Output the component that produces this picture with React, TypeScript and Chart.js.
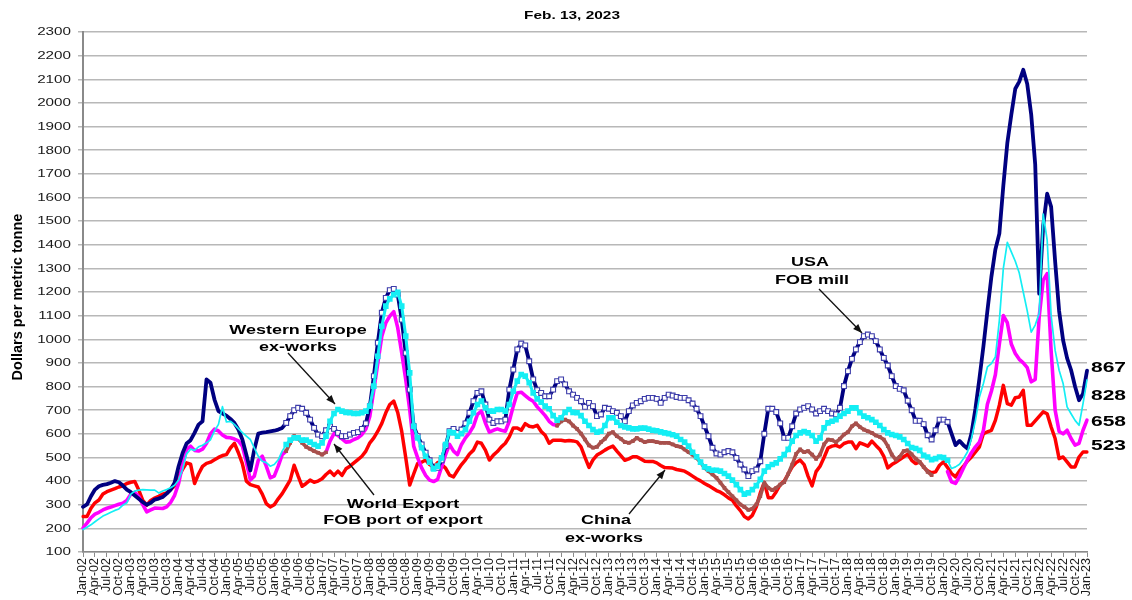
import React, { useEffect, useRef } from 'react';
import { Chart, registerables } from 'chart.js';

Chart.register(...registerables);

// ---------- categories (monthly, Jan-02 .. Jan-23) ----------
const MONTH_NAMES = ['Jan', 'Feb', 'Mar', 'Apr', 'May', 'Jun', 'Jul', 'Aug', 'Sep', 'Oct', 'Nov', 'Dec'];
const FIRST_YEAR = 2002;
const LAST_YEAR = 2023;
const CATEGORIES: string[] = [];
for (let y = FIRST_YEAR; y <= LAST_YEAR; y++) {
  for (let m = 0; m < 12; m++) {
    if (y === LAST_YEAR && m > 0) break;
    CATEGORIES.push(`${MONTH_NAMES[m]}-${String(y % 100).padStart(2, '0')}`);
  }
}

// ---------- series values, $/metric tonne ----------
const USA_FOB_MILL = [
  291, 301, 336, 364, 378, 384, 387, 393, 400, 395, 381, 364, // 2002
  353, 339, 325, 311, 300, 308, 322, 326, 333, 347, 364, 393, // 2003
  463, 519, 559, 573, 604, 639, 653, 830, 816, 745, 696, 686, // 2004
  677, 663, 646, 618, 576, 512, 445, 534, 601, 605, 607, 610, // 2005
  613, 618, 625, 646, 675, 700, 710, 706, 689, 660, 625, 597, // 2006
  590, 615, 632, 621, 604, 590, 590, 597, 604, 607, 621, 644, // 2007
  717, 844, 985, 1112, 1175, 1208, 1213, 1189, 1083, 942, 787, 632, // 2008
  590, 555, 520, 488, 456, 456, 488, 548, 611, 621, 604, 618, // 2009
  644, 689, 738, 773, 780, 724, 660, 646, 653, 653, 660, 787, // 2010
  872, 957, 982, 974, 907, 830, 785, 773, 759, 759, 787, 823, // 2011
  830, 809, 780, 766, 752, 738, 714, 731, 717, 675, 682, 710, // 2012
  706, 696, 689, 675, 653, 696, 720, 731, 738, 748, 752, 752, // 2013
  748, 731, 752, 766, 762, 756, 752, 752, 742, 728, 706, 675, // 2014
  632, 590, 541, 517, 512, 522, 527, 522, 498, 470, 449, 421, // 2015
  442, 449, 484, 600, 706, 706, 692, 644, 583, 583, 632, 686, // 2016
  703, 710, 717, 703, 686, 696, 706, 696, 686, 682, 710, 802, // 2017
  865, 917, 957, 988, 1013, 1020, 1013, 992, 957, 921, 889, 844, // 2018
  802, 790, 784, 740, 700, 655, 655, 641, 594, 576, 615, 660, // 2019
  660, 650, 601, 552, 570, 552, 538, 601, 707, 834, 970, 1120, // 2020
  1264, 1380, 1447, 1650, 1830, 1950, 2060, 2090, 2140, 2080, 1950, 1740, // 2021
  1193, 1480, 1616, 1560, 1330, 1120, 996, 920, 870, 800, 742, 770, // 2022
  867, // 2023
];

const WESTERN_EUROPE = [
  195, 205, 215, 228, 240, 252, 260, 268, 276, 282, 298, 308, // 2002
  345, 358, 362, 364, 363, 362, 362, 350, 358, 364, 372, 382, // 2003
  405, 450, 515, 535, 530, 545, 552, 562, 575, 612, 640, 715, // 2004
  650, 653, 640, 622, 605, 590, 576, 540, 505, 484, 478, 463, // 2005
  470, 490, 527, 555, 573, 583, 583, 573, 573, 565, 555, 548, // 2006
  562, 590, 653, 686, 703, 696, 691, 689, 686, 686, 689, 696, // 2007
  717, 802, 928, 1055, 1140, 1171, 1189, 1199, 1140, 1013, 858, 632, // 2008
  583, 541, 505, 480, 452, 463, 498, 555, 607, 604, 590, 601, // 2009
  618, 653, 689, 724, 738, 710, 696, 696, 703, 703, 696, 724, // 2010
  780, 823, 851, 844, 816, 773, 748, 734, 717, 706, 677, 658, // 2011
  668, 691, 703, 691, 689, 677, 653, 635, 618, 607, 611, 635, // 2012
  668, 668, 649, 635, 629, 625, 621, 621, 624, 624, 620, 615, // 2013
  613, 608, 604, 601, 596, 590, 576, 565, 548, 522, 503, 480, // 2014
  460, 452, 446, 446, 442, 432, 421, 404, 385, 364, 345, 350, // 2015
  364, 381, 407, 442, 460, 470, 477, 494, 512, 534, 569, 593, // 2016
  604, 610, 604, 593, 569, 583, 625, 646, 653, 660, 675, 686, // 2017
  696, 710, 710, 689, 675, 668, 660, 649, 635, 618, 604, 597, // 2018
  593, 587, 576, 559, 542, 538, 530, 509, 502, 491, 495, 502, // 2019
  499, 488, 453, 460, 471, 495, 523, 580, 657, 756, 813, 883, // 2020
  897, 925, 1080, 1300, 1410, 1370, 1330, 1280, 1200, 1120, 1030, 1060, // 2021
  1110, 1530, 1420, 1100, 953, 869, 813, 714, 685, 657, 636, 728, // 2022
  828, // 2023
];

const WORLD_EXPORT = [
  202, 222, 245, 260, 268, 278, 285, 290, 296, 302, 306, 318, // 2002
  345, 352, 335, 300, 270, 278, 286, 285, 284, 291, 310, 340, // 2003
  390, 470, 534, 548, 530, 527, 535, 560, 600, 620, 612, 595, // 2004
  585, 583, 578, 570, 548, 480, 405, 421, 488, 505, 463, 414, // 2005
  421, 463, 512, 527, 562, 590, 579, 562, 545, 536, 527, 520, // 2006
  512, 522, 569, 601, 593, 579, 565, 567, 576, 583, 597, 621, // 2007
  675, 787, 900, 1013, 1069, 1098, 1117, 1048, 942, 830, 703, 548, // 2008
  498, 456, 424, 404, 398, 407, 460, 512, 555, 527, 512, 555, // 2009
  583, 604, 632, 682, 696, 646, 607, 615, 621, 615, 611, 653, // 2010
  717, 773, 776, 762, 748, 738, 714, 696, 677, 653, 639, 635, // 2011
  653, 660, 653, 635, 621, 601, 576, 551, 541, 545, 565, 579, // 2012
  601, 607, 590, 579, 565, 562, 569, 583, 573, 565, 569, 569, // 2013
  565, 562, 562, 562, 555, 548, 545, 534, 522, 512, 498, 480, // 2014
  456, 442, 428, 414, 393, 371, 353, 336, 319, 301, 291, 278, // 2015
  283, 301, 336, 393, 371, 362, 371, 385, 395, 430, 470, 515, // 2016
  534, 522, 527, 512, 494, 512, 555, 576, 573, 565, 579, 597, // 2017
  607, 632, 644, 629, 618, 611, 604, 593, 587, 576, 548, 512, // 2018
  491, 503, 527, 530, 513, 495, 481, 460, 439, 425, null, null, // 2019
  null, 440, 397, 390, 420, 455, 490, 520, 545, 565, 615, 725, // 2020
  780, 850, 980, 1100, 1070, 980, 940, 915, 900, 880, 820, 830, // 2021
  1095, 1250, 1278, 950, 700, 610, 600, 615, 580, 552, 560, 615, // 2022
  658, // 2023
];

const CHINA_EX_WORKS = [
  250, 250, 285, 308, 320, 345, 355, 362, 368, 375, 380, 390, // 2002
  395, 398, 362, 318, 298, 318, 328, 336, 345, 350, 365, 380, // 2003
  418, 450, 477, 472, 390, 430, 462, 475, 480, 490, 500, 508, // 2004
  512, 540, 560, 520, 474, 400, 385, 380, 375, 345, 305, 291, // 2005
  300, 325, 347, 375, 404, 467, 421, 378, 390, 404, 395, 400, // 2006
  410, 428, 442, 424, 442, 424, 452, 463, 477, 491, 505, 527, // 2007
  562, 583, 611, 644, 689, 724, 738, 690, 610, 500, 383, 430, // 2008
  475, 480, 489, 470, 460, 478, 470, 455, 425, 418, 445, 470, // 2009
  490, 515, 531, 565, 560, 531, 489, 510, 525, 545, 560, 587, // 2010
  625, 625, 615, 643, 632, 629, 636, 610, 594, 560, 573, 573, // 2011
  573, 570, 572, 570, 566, 545, 500, 458, 490, 510, 520, 531, // 2012
  541, 548, 527, 508, 488, 494, 503, 503, 494, 484, 483, 483, // 2013
  477, 466, 457, 456, 455, 449, 446, 442, 432, 421, 410, 401, // 2014
  390, 381, 371, 360, 353, 342, 329, 319, 295, 275, 250, 240, // 2015
  255, 291, 350, 395, 330, 330, 355, 385, 400, 430, 460, 478, // 2016
  489, 470, 420, 380, 440, 463, 500, 540, 548, 551, 544, 559, // 2017
  565, 565, 537, 562, 555, 548, 569, 551, 534, 505, 456, 470, // 2018
  480, 491, 503, 514, 488, 474, 481, 460, 443, 435, 439, 467, // 2019
  481, 457, 432, 418, 443, 463, 485, 502, 523, 545, 601, 608, // 2020
  615, 657, 721, 805, 728, 721, 753, 756, 784, 636, 636, 655, // 2021
  674, 693, 685, 629, 580, 495, 502, 481, 460, 460, 502, 523, // 2022
  523, // 2023
];

// index ranges (month index) for marker / colour treatment
const USA_MARKER_SPAN = [51, 217];
const WE_MARKER_SPAN = [51, 217];
const BROWN_SPANS = [[51, 61], [119, 213]];

// end-of-series labels
const END_LABELS = ['867', '828', '658', '523'];

// axis
const Y_MIN = 100;
const Y_MAX = 2300;
const Y_STEP = 100;

// ---------- styles ----------
const NAVY = '#000080';
const NAVY_MARK = '#3c3caa';
const CYAN = '#14eef4';
const MAGENTA = '#ff00ff';
const BROWN = '#a8504c';
const RED = '#ff0000';
const GRID = '#b8b8b8';
const AXIS = '#8a8a8a';
const FONT = '"Liberation Sans", Arial, Helvetica, sans-serif';

const inSpan = (i: number, s: number[]) => i >= s[0] && i <= s[1];
const inBrown = (i: number) => BROWN_SPANS.some((s) => inSpan(i, s));

function stretchedText(ctx: CanvasRenderingContext2D, text: string, x: number, y: number, sx: number, align: CanvasTextAlign) {
  ctx.save();
  ctx.translate(x, y);
  ctx.scale(sx, 1);
  ctx.textAlign = align;
  ctx.fillText(text, 0, 0);
  ctx.restore();
}

function arrow(ctx: CanvasRenderingContext2D, x1: number, y1: number, x2: number, y2: number) {
  ctx.beginPath();
  ctx.moveTo(x1, y1);
  ctx.lineTo(x2, y2);
  ctx.stroke();
  const a = Math.atan2(y2 - y1, x2 - x1);
  const L = 9;
  const W = 3.6;
  ctx.beginPath();
  ctx.moveTo(x2, y2);
  ctx.lineTo(x2 - L * Math.cos(a) + W * Math.sin(a), y2 - L * Math.sin(a) - W * Math.cos(a));
  ctx.lineTo(x2 - L * Math.cos(a) - W * Math.sin(a), y2 - L * Math.sin(a) + W * Math.cos(a));
  ctx.closePath();
  ctx.fill();
}

const textPlugin = {
  id: 'textPlugin',
  afterDraw(chart: any) {
    const ctx: CanvasRenderingContext2D = chart.ctx;
    const xs = chart.scales.x;
    const ys = chart.scales.y;
    ctx.save();
    ctx.fillStyle = '#1a1a1a';
    ctx.textBaseline = 'middle';

    // y tick labels
    ctx.font = `10.5px ${FONT}`;
    ys.ticks.forEach((t: any) => {
      stretchedText(ctx, String(t.value), 71, ys.getPixelForValue(t.value) + 0.5, 1.45, 'right');
    });

    // x tick labels (every third month)
    ctx.font = `12.5px ${FONT}`;
    CATEGORIES.forEach((lab, i) => {
      if (i % 3 !== 0) return;
      ctx.save();
      ctx.translate(xs.getPixelForTick(i), 558);
      ctx.rotate(-Math.PI / 2);
      ctx.textAlign = 'right';
      ctx.textBaseline = 'middle';
      ctx.fillText(lab, 0, 0);
      ctx.restore();
    });

    ctx.fillStyle = '#000';
    ctx.textBaseline = 'alphabetic';

    // title
    ctx.font = `bold 11px ${FONT}`;
    stretchedText(ctx, 'Feb. 13, 2023', 572, 19, 1.4, 'center');

    // y axis title
    ctx.save();
    ctx.font = `bold 14.5px ${FONT}`;
    ctx.translate(22, 297);
    ctx.rotate(-Math.PI / 2);
    ctx.textAlign = 'center';
    ctx.fillText('Dollars per metric tonne', 0, 0);
    ctx.restore();

    // annotations
    ctx.font = `bold 13.5px ${FONT}`;
    const sxA = 1.33;
    stretchedText(ctx, 'Western Europe', 298, 334, sxA, 'center');
    stretchedText(ctx, 'ex-works', 298, 351, sxA, 'center');
    stretchedText(ctx, 'World Export', 403, 508, sxA, 'center');
    stretchedText(ctx, 'FOB port of export', 403, 524, sxA, 'center');
    stretchedText(ctx, 'China', 606, 524, sxA, 'center');
    stretchedText(ctx, 'ex-works', 604, 542, sxA, 'center');
    stretchedText(ctx, 'USA', 810, 266, sxA, 'center');
    stretchedText(ctx, 'FOB mill', 812, 284, sxA, 'center');

    ctx.strokeStyle = '#111';
    ctx.fillStyle = '#111';
    ctx.lineWidth = 1.3;
    arrow(ctx, 288, 353, 335, 404);
    arrow(ctx, 374, 495, 334, 444);
    arrow(ctx, 629, 514, 665, 470);
    arrow(ctx, 819, 289, 862, 333);

    // end values
    ctx.fillStyle = '#000';
    ctx.font = `bold 15px ${FONT}`;
    const endY = [372, 400, 426, 450];
    END_LABELS.forEach((t, k) => stretchedText(ctx, t, 1091, endY[k], 1.4, 'left'));

    ctx.restore();
  },
};

export default function App() {
  const ref = useRef<HTMLCanvasElement>(null);

  useEffect(() => {
    if (!ref.current) return;
    const chart = new Chart(ref.current, {
      type: 'line',
      data: {
        labels: CATEGORIES,
        datasets: [
          {
            label: 'Western Europe ex-works',
            data: WESTERN_EUROPE,
            borderColor: CYAN,
            backgroundColor: CYAN,
            borderWidth: 1.7,
            order: 1,
            segment: {
              borderWidth: (c: any) =>
                inSpan(c.p0DataIndex, WE_MARKER_SPAN) && inSpan(c.p1DataIndex, WE_MARKER_SPAN) ? 3 : 1.7,
            },
            pointStyle: 'rect',
            pointRadius: (c: any) => (inSpan(c.dataIndex, WE_MARKER_SPAN) ? 4 : 0),
            pointBackgroundColor: CYAN,
            pointBorderWidth: 0,
          },
          {
            label: 'USA FOB mill',
            data: USA_FOB_MILL,
            borderColor: NAVY,
            borderWidth: 3.8,
            order: 2,
            pointStyle: 'rect',
            pointRadius: (c: any) => (inSpan(c.dataIndex, USA_MARKER_SPAN) ? 3.4 : 0),
            pointBackgroundColor: '#ffffff',
            pointBorderColor: NAVY_MARK,
            pointBorderWidth: 1.1,
          },
          {
            label: 'World Export FOB port of export',
            data: WORLD_EXPORT,
            borderColor: MAGENTA,
            borderWidth: 3.6,
            order: 3,
            spanGaps: false,
            segment: {
              borderColor: (c: any) => (inBrown(c.p0DataIndex) && inBrown(c.p1DataIndex) ? BROWN : MAGENTA),
            },
            pointStyle: 'rect',
            pointRadius: (c: any) => (inBrown(c.dataIndex) ? 2.6 : 0),
            pointBackgroundColor: BROWN,
            pointBorderWidth: 0,
          },
          {
            label: 'China ex-works',
            data: CHINA_EX_WORKS,
            borderColor: RED,
            borderWidth: 3.5,
            order: 4,
            pointRadius: 0,
          },
        ],
      },
      options: {
        responsive: false,
        animation: false,
        devicePixelRatio: 1,
        events: [],
        layout: { padding: { top: 32, right: 45, left: 0, bottom: 0 } },
        plugins: {
          legend: { display: false },
          tooltip: { enabled: false },
          title: { display: false },
        },
        elements: {
          line: { tension: 0, borderJoinStyle: 'round', borderCapStyle: 'round' },
        },
        scales: {
          x: {
            type: 'category',
            offset: false,
            grid: {
              drawOnChartArea: false,
              drawTicks: true,
              tickLength: 5,
              lineWidth: 1,
              color: (c: any) => (c.index % 3 === 0 ? AXIS : 'rgba(0,0,0,0)'),
            },
            border: { display: true, color: AXIS, width: 1.5 },
            ticks: { display: false, autoSkip: false },
            afterFit: (s: any) => {
              s.height = 48;
            },
          },
          y: {
            min: Y_MIN,
            max: Y_MAX,
            ticks: { stepSize: Y_STEP, display: false },
            grid: { color: GRID, lineWidth: 1.5, drawTicks: true, tickLength: 5 },
            border: { display: true, color: AXIS, width: 2 },
            afterFit: (s: any) => {
              s.width = 83;
            },
          },
        },
      },
      plugins: [textPlugin],
    } as any);
    return () => chart.destroy();
  }, []);

  return (
    <div style={{ position: 'absolute', left: 0, top: 0, width: 1132, height: 600, background: '#ffffff' }}>
      <canvas ref={ref} width={1132} height={600} style={{ display: 'block', width: 1132, height: 600 }} />
    </div>
  );
}
